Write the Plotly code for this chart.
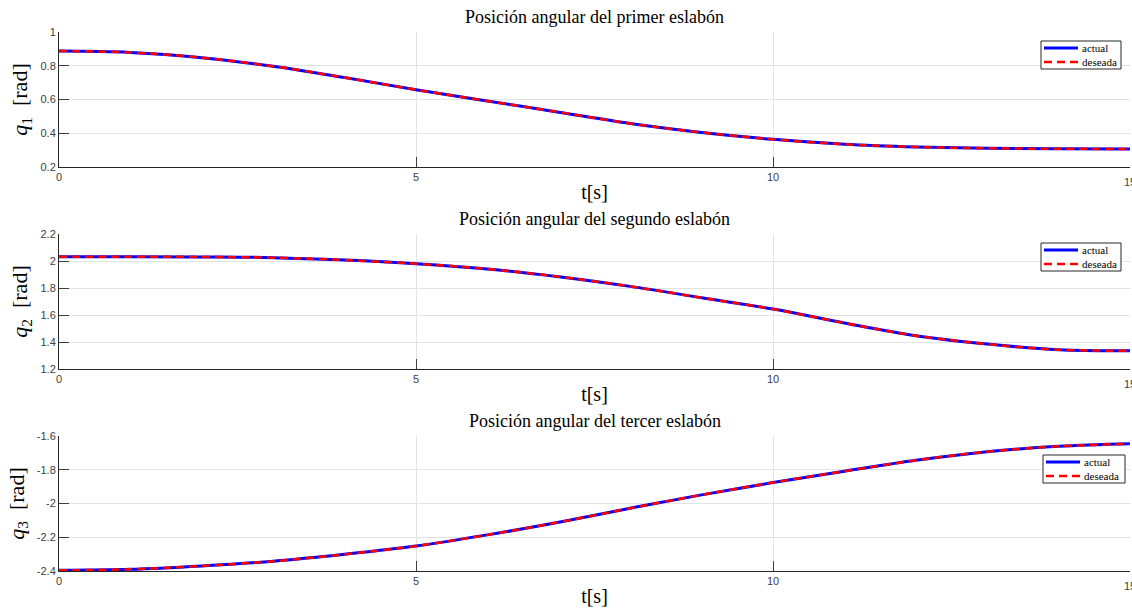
import plotly.graph_objects as go

t = [0, 1, 2, 3, 4, 5, 6, 7, 8, 9, 10, 11, 12, 13, 14, 15]
q1 = [0.887, 0.879, 0.848, 0.797, 0.730, 0.658, 0.591, 0.525, 0.458, 0.405,
      0.364, 0.335, 0.319, 0.311, 0.308, 0.307]
q2 = [2.032, 2.032, 2.030, 2.025, 2.007, 1.980, 1.941, 1.884, 1.812, 1.728,
      1.644, 1.541, 1.447, 1.385, 1.343, 1.336]
q3 = [-2.396, -2.390, -2.370, -2.342, -2.301, -2.252, -2.186, -2.111, -2.028, -1.949,
      -1.876, -1.809, -1.744, -1.693, -1.661, -1.646]

titles = ["Posición angular del primer eslabón",
          "Posición angular del segundo eslabón",
          "Posición angular del tercer eslabón"]
ylabels = ["<i>q</i><sub>1</sub>  [rad]", "<i>q</i><sub>2</sub>  [rad]", "<i>q</i><sub>3</sub>  [rad]"]
yranges = [[0.2, 1.0], [1.2, 2.2], [-2.4, -1.6]]
ydticks = [0.2, 0.2, 0.2]
xticks = [0, 5, 10, 15]
series_names = ["actual", "deseada"]

W, H = 1132, 614
ml, mr, mt, mb = 59, 2, 32, 43
ph = H - mt - mb
pw = W - ml - mr
pix = [(32, 167), (234, 369), (436, 571)]
doms = [[(H - mb - b) / ph, (H - mb - a) / ph] for a, b in pix]
# legend boxes (left, top, right, bottom) in pixels
leg_box = [(1041, 41, 1121, 69), (1041, 243, 1121, 271), (1043, 455, 1125, 483)]


def px(x):
    return (x - ml) / pw


def py(y):
    return (H - mb - y) / ph


serif = "Liberation Serif"
sans = "Liberation Sans"
axcol = "#262626"
tickfont = dict(family=sans, size=11, color="#404040")

fig = go.Figure()
data = [q1, q2, q3]
for i in range(3):
    xa = "x" if i == 0 else f"x{i+1}"
    ya = "y" if i == 0 else f"y{i+1}"
    fig.add_trace(go.Scatter(x=t, y=data[i], mode="lines", name=series_names[0],
                             line=dict(color="#0000ff", width=3, shape="spline"),
                             xaxis=xa, yaxis=ya, showlegend=False))
    fig.add_trace(go.Scatter(x=t, y=data[i], mode="lines", name=series_names[1],
                             line=dict(color="#ff0000", width=2.5, dash="8px,5px", shape="spline"),
                             xaxis=xa, yaxis=ya, showlegend=False))

layout = dict(width=W, height=H, margin=dict(l=ml, r=mr, t=mt, b=mb),
              paper_bgcolor="white", plot_bgcolor="white", showlegend=False,
              font=dict(family=serif, color="#000"),
              annotations=[], shapes=[])
for i in range(3):
    xk = "xaxis" if i == 0 else f"xaxis{i+1}"
    yk = "yaxis" if i == 0 else f"yaxis{i+1}"
    yid = "y" if i == 0 else f"y{i+1}"
    xid = "x" if i == 0 else f"x{i+1}"
    layout[xk] = dict(domain=[0, 1], anchor=yid, range=[0, 15], tickvals=xticks,
                      ticktext=[str(v) for v in xticks[:-1]] + [""],
                      ticks="inside", ticklen=10, tickcolor="#404040", tickwidth=1,
                      showline=True, linecolor=axcol, linewidth=1, mirror=False,
                      showgrid=True, gridcolor="#e3e3e3", gridwidth=1, zeroline=False,
                      tickfont=tickfont,
                      title=dict(text="t[s]", font=dict(family=serif, size=20, color="#000"), standoff=2))
    # last x tick label, at the figure edge as in the reference
    layout["annotations"].append(dict(text=str(xticks[-1]), x=xticks[-1], xref=xid,
                                      y=py(pix[i][1] + 7), yref="paper", xanchor="center",
                                      yanchor="top", showarrow=False, font=tickfont))
    lo, hi = yranges[i]
    nt = int(round((hi - lo) / ydticks[i]))
    tv = [round(lo + k * ydticks[i], 6) for k in range(nt + 1)]
    tt = [("%g" % v) for v in tv]
    layout[yk] = dict(domain=doms[i], anchor=xid, range=[lo, hi], tickvals=tv, ticktext=tt,
                      ticks="inside", ticklen=10, tickcolor="#404040", tickwidth=1,
                      showline=True, linecolor=axcol, linewidth=1, mirror=False,
                      showgrid=True, gridcolor="#e3e3e3", gridwidth=1, zeroline=False,
                      tickfont=tickfont,
                      title=dict(text=ylabels[i], font=dict(family=serif, size=22, color="#000"), standoff=6))
    # title
    layout["annotations"].append(dict(text=titles[i], x=0.5, xref="paper",
                                      y=py(pix[i][0] - 3), yref="paper",
                                      xanchor="center", yanchor="bottom", showarrow=False,
                                      font=dict(family=serif, size=18, color="#000")))
    # legend box
    l, tp, r, b = leg_box[i]
    layout["shapes"].append(dict(type="rect", xref="paper", yref="paper",
                                 x0=px(l), x1=px(r), y0=py(b), y1=py(tp),
                                 fillcolor="white", line=dict(color="#262626", width=1)))
    rows = [(tp + 7, "#0000ff", "solid", 3, series_names[0]),
            (tp + 21, "#ff0000", "8px,5px", 2.5, series_names[1])]
    for yy, col, dsh, wd, nm in rows:
        layout["shapes"].append(dict(type="line", xref="paper", yref="paper",
                                     x0=px(l + 3), x1=px(l + 37), y0=py(yy), y1=py(yy),
                                     line=dict(color=col, width=wd, dash=dsh)))
        layout["annotations"].append(dict(text=nm, x=px(l + 39), y=py(yy), xref="paper", yref="paper",
                                          xanchor="left", yanchor="middle", showarrow=False,
                                          font=dict(family=serif, size=11, color="#000")))

fig.update_layout(**layout)
fig.write_html("out.html")
